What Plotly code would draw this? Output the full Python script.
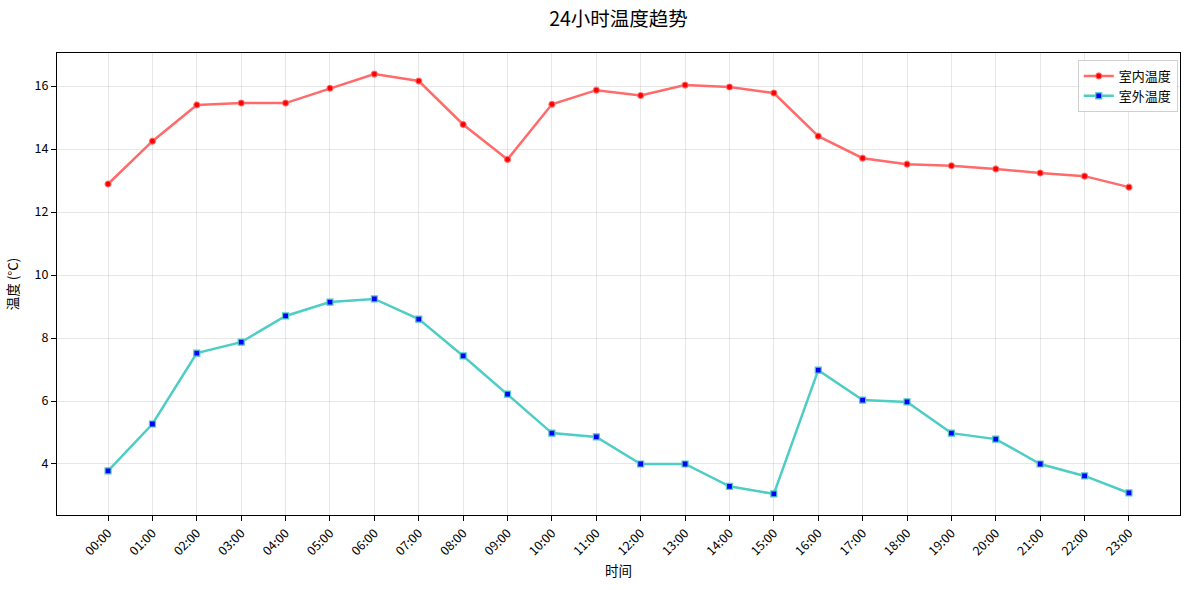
import plotly.graph_objects as go

hours = ["%02d:00" % h for h in range(24)]
indoor = [12.89, 14.25, 15.40, 15.46, 15.46, 15.93, 16.38, 16.16, 14.78, 13.67,
          15.42, 15.87, 15.70, 16.03, 15.97, 15.78, 14.41, 13.71, 13.52, 13.47,
          13.37, 13.24, 13.14, 12.79]
outdoor = [3.78, 5.27, 7.52, 7.87, 8.70, 9.14, 9.24, 8.60, 7.43, 6.22,
           4.98, 4.86, 4.00, 4.00, 3.29, 3.05, 6.98, 6.03, 5.97, 4.98,
           4.79, 4.00, 3.62, 3.08]
y_ticks = [4, 6, 8, 10, 12, 14, 16]

FONT = "Noto Sans CJK SC, DejaVu Sans, sans-serif"

fig = go.Figure()
fig.add_trace(go.Scatter(
    x=hours, y=indoor, name="室内温度", mode="lines+markers",
    line=dict(color="rgba(255,107,107,1)", width=2.5),
    marker=dict(symbol="circle", size=6, color="red",
                line=dict(color="rgba(255,107,107,0.8)", width=1.2)),
))
fig.add_trace(go.Scatter(
    x=hours, y=outdoor, name="室外温度", mode="lines+markers",
    line=dict(color="#4ECDC4", width=2.5),
    marker=dict(symbol="square", size=6, color="blue",
                line=dict(color="#4ECDC4", width=1.2)),
))

axis_common = dict(
    showline=True, linecolor="black", linewidth=1, mirror=True,
    ticks="outside", ticklen=5, tickcolor="black", tickwidth=1,
    showgrid=True, gridcolor="rgba(176,176,176,0.3)", gridwidth=1,
    zeroline=False, automargin=False,
    tickfont=dict(family=FONT, size=12.5, color="black"),
)

fig.update_layout(
    width=1189, height=590,
    margin=dict(l=57, r=9, t=53, b=75),
    paper_bgcolor="white", plot_bgcolor="white",
    font=dict(family=FONT, size=12, color="black"),
    title=dict(text="24小时温度趋势", x=0.5, xref="paper", xanchor="center",
               y=1 - 19 / 590, yref="container", yanchor="middle",
               font=dict(family=FONT, size=19.5, color="black")),
    xaxis=dict(axis_common, type="category", range=[-1.15, 24.15],
               tickangle=-45,
               title=dict(text="时间", font=dict(family=FONT, size=13.5), standoff=8)),
    yaxis=dict(axis_common, range=[2.38, 17.05], tickvals=y_ticks,
               title=dict(text="温度 (°C)", font=dict(family=FONT, size=13.5), standoff=12)),
    legend=dict(x=0.998, y=0.985, xanchor="right", yanchor="top",
                bgcolor="rgba(255,255,255,0.8)", bordercolor="#d0d0d0", borderwidth=1,
                font=dict(family=FONT, size=13), tracegroupgap=0),
    showlegend=True,
)

fig.write_html("out.html", config={"displayModeBar": False},
               post_script="document.body.style.margin='0px';")
